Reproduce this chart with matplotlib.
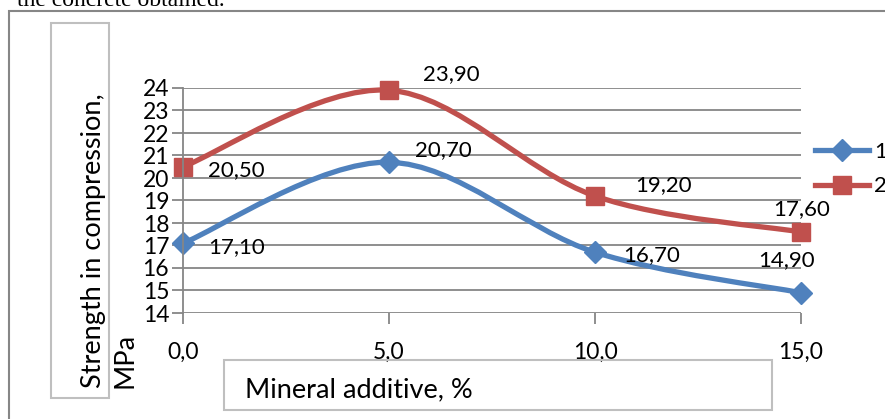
import numpy as np
import matplotlib
matplotlib.use("Agg")
import matplotlib.pyplot as plt
from matplotlib.path import Path
from matplotlib.patches import PathPatch, Rectangle
from matplotlib.lines import Line2D

# data
additive = [0.0, 5.0, 10.0, 15.0]
series_1 = [17.1, 20.7, 16.7, 14.9]
series_2 = [20.5, 23.9, 19.2, 17.6]
series_names = ["1", "2"]
x_ticks = [0.0, 5.0, 10.0, 15.0]
x_tick_labels = ["0,0", "5,0", "10,0", "15,0"]
y_ticks = list(range(14, 25))

BLUE = "#4F81BD"
RED = "#C0504D"
GRID = "#868686"
BOX = "#BFBFBF"
W, H = 885, 419

plt.rcParams["font.family"] = ["Lato", "DejaVu Sans"]
FS = 16        # data labels / legend
FS_TICK = 16.5
FS_TITLE = 19.5


def px(x, y):
    # pixel (from top-left) -> figure fraction
    return x / W, 1 - y / H


def smooth_path(xs, ys):
    # Excel style smoothed line: cubic bezier through the points
    pts = np.column_stack([xs, ys]).astype(float)
    n = len(pts)
    verts = [pts[0]]
    codes = [Path.MOVETO]
    for i in range(n - 1):
        p0 = pts[i - 1] if i > 0 else pts[i]
        p1 = pts[i]
        p2 = pts[i + 1]
        p3 = pts[i + 2] if i + 2 < n else pts[i + 1]
        c1 = p1 + (p2 - p0) / 6.0
        c2 = p2 - (p3 - p1) / 6.0
        verts += [c1, c2, p2]
        codes += [Path.CURVE4] * 3
    return Path(verts, codes)


fig = plt.figure(figsize=(W / 100, H / 100), dpi=100)

# frame of the chart object
fig.patches.append(Rectangle(px(9, 430), 1, (430 - 11) / H, transform=fig.transFigure,
                             fill=False, ec=GRID, lw=1.5))
# caption text cut at the top
fig.text(*px(225, 6), "the concrete obtained.", ha="right", va="baseline",
         family="Liberation Serif", fontsize=17)

l, b = px(183, 313)
r, t = px(801, 88)
ax = fig.add_axes([l, b, r - l, t - b])
ax.set_xlim(0, 15)
ax.set_ylim(14, 24)
ax.set_xticks(x_ticks)
ax.set_xticklabels(x_tick_labels)
ax.set_yticks(y_ticks)
ax.grid(axis="y", color=GRID, lw=1.3)
ax.set_axisbelow(True)
for s in ["top", "right", "bottom"]:
    ax.spines[s].set_visible(False)
ax.spines["left"].set_color(GRID)
ax.spines["left"].set_linewidth(1.3)
ax.tick_params(axis="both", length=8, width=1.3, color=GRID, labelsize=FS_TICK)
ax.tick_params(axis="x", pad=13)
ax.tick_params(axis="y", pad=2)

for ys, color, marker, ms in [(series_1, BLUE, "D", 11), (series_2, RED, "s", 13)]:
    ax.add_patch(PathPatch(smooth_path(additive, ys), fill=False, ec=color, lw=3.8,
                           capstyle="round", joinstyle="round", clip_on=False))
    ax.plot(additive, ys, linestyle="none", marker=marker, ms=ms, color=color, clip_on=False)

# data labels: (value, x, y, offset in pixels)
labels = [
    (series_1[0], additive[0], series_1[0], (25, -4)),
    (series_2[0], additive[0], series_2[0], (25, -3)),
    (series_1[1], additive[1], series_1[1], (26, 12)),
    (series_2[1], additive[1], series_2[1], (34, 16)),
    (series_2[2], additive[2], series_2[2], (40, 11)),
    (series_1[2], additive[2], series_1[2], (28, -3)),
    (series_1[3], additive[3], series_1[3], (-43, 33)),
    (series_2[3], additive[3], series_2[3], (-28, 23)),
]
for v, xv, yv, off in labels:
    ax.annotate(f"{v:.2f}".replace(".", ","), (xv, yv), xytext=off,
                textcoords="offset pixels", ha="left", va="center", fontsize=FS)

# axis title boxes
fig.patches.append(Rectangle(px(51, 398), 58 / W, 375 / H, transform=fig.transFigure,
                             fill=False, ec=BOX, lw=1.5))
fig.text(*px(93, 388), "Strength in compression,", rotation=90, rotation_mode="anchor",
         ha="left", va="center", fontsize=FS_TITLE)
fig.text(*px(125, 388), "MPa", rotation=90, rotation_mode="anchor",
         ha="left", va="center", fontsize=FS_TITLE)

fig.patches.append(Rectangle(px(224, 410), 548 / W, 50 / H, transform=fig.transFigure,
                             fill=False, ec=BOX, lw=1.5))
fig.text(*px(245, 390), "Mineral additive, %", ha="left", va="center", fontsize=FS_TITLE)

handles = [Line2D([], [], color=BLUE, lw=3.8, marker="D", ms=11),
           Line2D([], [], color=RED, lw=3.8, marker="s", ms=13)]
fig.legend(handles, series_names, loc="upper left", bbox_to_anchor=px(815, 142),
           frameon=False, fontsize=FS, borderpad=0, borderaxespad=0,
           handlelength=2.45, handletextpad=0.2, labelspacing=0.65)

fig.savefig("out.png", dpi=100)
